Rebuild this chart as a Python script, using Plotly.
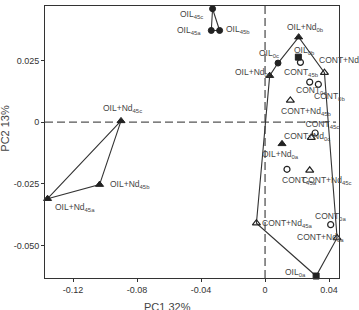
import plotly.graph_objects as go

# ---- data ----
names = ["OIL45c", "OIL45a", "OIL45b",
         "OIL+Nd45c", "OIL+Nd45b", "OIL+Nd45a",
         "OIL+Nd0b", "OIL0c", "OIL+Nd0c", "CONT+Nd45a", "OIL0a", "CONT+Nd0a", "CONT+Nd0b",
         "OIL0b", "CONT45b", "CONT0c", "CONT0b", "CONT+Nd45b", "CONT45c", "CONT+Nd0c",
         "OIL+Nd0a", "CONT45a", "CONT+Nd45c", "CONT0a"]
pc1 = [-0.0328, -0.0336, -0.0284,
       -0.0900, -0.1034, -0.1359,
       0.0210, 0.0081, 0.0029, -0.0054, 0.0319, 0.0450, 0.0371,
       0.0208, 0.0221, 0.0279, 0.0333, 0.0158, 0.0313, 0.0289,
       0.0106, 0.0137, 0.0279, 0.0410]
pc2 = [0.0459, 0.0371, 0.0371,
       0.0005, -0.0253, -0.0310,
       0.0344, 0.0239, 0.0188, -0.0409, -0.0623, -0.0469, 0.0200,
       0.0263, 0.0242, 0.0162, 0.0153, 0.0088, -0.0044, -0.0063,
       -0.0088, -0.0191, -0.0195, -0.0415]
labels = ["OIL<sub>45c</sub>", "OIL<sub>45a</sub>", "OIL<sub>45b</sub>",
          "OIL+Nd<sub>45c</sub>", "OIL+Nd<sub>45b</sub>", "OIL+Nd<sub>45a</sub>",
          "OIL+Nd<sub>0b</sub>", "OIL<sub>0c</sub>", "OIL+Nd<sub>0c</sub>", "CONT+Nd<sub>45a</sub>",
          "OIL<sub>0a</sub>", "CONT+Nd<sub>0a</sub>", "CONT+Nd<sub>0b</sub>",
          "OIL<sub>0b</sub>", "CONT<sub>45b</sub>", "CONT<sub>0c</sub>", "CONT<sub>0b</sub>",
          "CONT+Nd<sub>45b</sub>", "'CONT<sub>45c</sub>", "CONT+Nd<sub>0c</sub>",
          "OIL+Nd<sub>0a</sub>", "CONT<sub>45a</sub>", "CONT+Nd<sub>45c</sub>", "CONT<sub>0a</sub>"]

hull_oil45 = ["OIL45a", "OIL45b", "OIL45c"]
hull_nd45 = ["OIL+Nd45a", "OIL+Nd45b", "OIL+Nd45c"]
hull_main = ["OIL+Nd0c", "OIL0c", "OIL+Nd0b", "CONT+Nd0b", "CONT+Nd0a", "OIL0a", "CONT+Nd45a"]

x_ticks = [-0.12, -0.08, -0.04, 0, 0.04]
x_ticktext = ["-0.12", "-0.08", "-0.04", "0", "0.04"]
y_ticks = [0.025, 0, -0.025, -0.05]
y_ticktext = ["0.025", "0", "-0.025", "-0.050"]

# ---- styles ----
DARK = "#222222"
LINE = "#333333"
TXT = "#444444"
FONT = "Liberation Sans, Arial, sans-serif"


def group_of(n):
    if n.startswith("OIL+Nd"):
        return "oilnd"
    if n.startswith("OIL"):
        return "oil"
    if n.startswith("CONT+Nd"):
        return "contnd"
    return "cont"


marker_style = {
    "oil": dict(symbol="circle", size=6, color=DARK, line=dict(color=DARK, width=1)),
    "oilnd": dict(symbol="triangle-up", size=7, color=DARK, line=dict(color=DARK, width=1)),
    "cont": dict(symbol="circle-open", size=6, color=DARK, line=dict(color=DARK, width=1.2)),
    "contnd": dict(symbol="triangle-up-open", size=7, color=DARK, line=dict(color=DARK, width=1.2)),
}
square_override = {"OIL0a", "OIL0b"}

# label placement: (xanchor, xshift, yshift)
label_pos = {
    "OIL45c": ("right", -8, -6), "OIL45a": ("right", -8, 0), "OIL45b": ("left", 4, 1),
    "OIL+Nd45c": ("center", 1, 12), "OIL+Nd45b": ("left", 8, 0), "OIL+Nd45a": ("left", 5, -9),
    "OIL+Nd0b": ("center", 7, 10), "OIL0c": ("center", -9, 10), "OIL+Nd0c": ("right", 3, 3),
    "CONT+Nd45a": ("left", 4, 0), "OIL0a": ("right", -8, 4), "CONT+Nd0a": ("right", 9, 0),
    "CONT+Nd0b": ("left", -7, 12), "OIL0b": ("left", -6, 7), "CONT45b": ("center", 1, -10),
    "CONT0c": ("center", 1, -8), "CONT0b": ("left", -6, -12), "CONT+Nd45b": ("center", 16, -11),
    "CONT45c": ("center", 6, 8), "CONT+Nd0c": ("center", -4, 1), "OIL+Nd0a": ("center", -2, -11),
    "CONT45a": ("left", -7, -11), "CONT+Nd45c": ("left", -10, -10), "CONT0a": ("center", 0, 8),
}

idx = {n: i for i, n in enumerate(names)}

fig = go.Figure()


def add_hull(members):
    xs = [pc1[idx[m]] for m in members] + [pc1[idx[members[0]]]]
    ys = [pc2[idx[m]] for m in members] + [pc2[idx[members[0]]]]
    fig.add_trace(go.Scatter(x=xs, y=ys, mode="lines", line=dict(color=LINE, width=1.1),
                             hoverinfo="skip", showlegend=False, cliponaxis=False))


for h in (hull_oil45, hull_nd45, hull_main):
    add_hull(h)

for g in ["cont", "contnd", "oil", "oilnd"]:
    sel = [i for i, n in enumerate(names) if group_of(n) == g]
    ms = dict(marker_style[g])
    syms = ["square" if names[i] in square_override else ms["symbol"] for i in sel]
    ms["symbol"] = syms
    fig.add_trace(go.Scatter(x=[pc1[i] for i in sel], y=[pc2[i] for i in sel], mode="markers",
                             marker=ms, showlegend=False, cliponaxis=False))

for i, n in enumerate(names):
    xa, dx, dy = label_pos[n]
    fig.add_annotation(x=pc1[i], y=pc2[i], text=labels[i], showarrow=False,
                       xanchor=xa, yanchor="middle", xshift=dx, yshift=dy,
                       font=dict(family=FONT, size=8.5, color=TXT))

# zero dashed lines
fig.add_shape(type="line", xref="x", yref="y domain", x0=0, x1=0, y0=0, y1=1,
              line=dict(color="#555555", width=1.3, dash="8px,4px"), layer="below")
fig.add_shape(type="line", xref="x domain", yref="y", x0=0, x1=0.99, y0=0, y1=0,
              line=dict(color="#555555", width=1.3, dash="8px,4px"), layer="below")

# axis titles
fig.add_annotation(xref="paper", yref="paper", x=0.415, y=-0.108, text="PC1 32%", showarrow=False,
                   xanchor="center", yanchor="middle",
                   font=dict(family=FONT, size=11, color=TXT))
fig.add_annotation(xref="paper", yref="paper", x=-0.135, y=0.55, text="PC2 13%", showarrow=False,
                   textangle=-90, xanchor="center", yanchor="middle",
                   font=dict(family=FONT, size=11, color=TXT))

axis_common = dict(showgrid=False, zeroline=False, showline=True, linecolor=LINE, linewidth=1,
                   mirror=True, ticks="outside", ticklen=3, tickcolor=LINE,
                   tickfont=dict(family=FONT, size=9, color="#333333"))

fig.update_layout(
    width=359, height=310,
    margin=dict(l=45, r=20, t=6, b=32),
    paper_bgcolor="white", plot_bgcolor="white",
    xaxis=dict(range=[-0.1375, 0.0462], tickvals=x_ticks, ticktext=x_ticktext, **axis_common),
    yaxis=dict(range=[-0.0631, 0.047], tickvals=y_ticks, ticktext=y_ticktext, **axis_common),
    showlegend=False,
)

fig.write_html("out.html")
